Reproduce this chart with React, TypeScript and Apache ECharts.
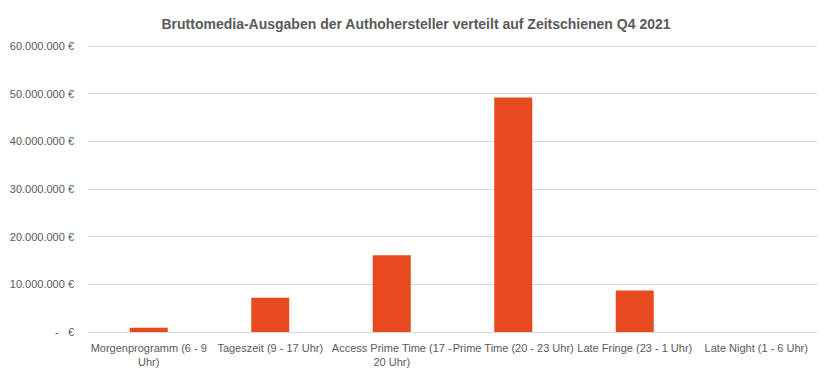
import React, { useEffect, useRef } from "react";
import * as echarts from "echarts";

const title = "Bruttomedia-Ausgaben der Authohersteller verteilt auf Zeitschienen Q4 2021";
const categories = [
  "Morgenprogramm (6 - 9 Uhr)",
  "Tageszeit (9 - 17 Uhr)",
  "Access Prime Time (17 - 20 Uhr)",
  "Prime Time (20 - 23 Uhr)",
  "Late Fringe (23 - 1 Uhr)",
  "Late Night (1 - 6 Uhr)",
];
const categoryLabels = [
  "Morgenprogramm (6 - 9\nUhr)",
  "Tageszeit (9 - 17 Uhr)",
  "Access Prime Time (17 -\n20 Uhr)",
  "Prime Time (20 - 23 Uhr)",
  "Late Fringe (23 - 1 Uhr)",
  "Late Night (1 - 6 Uhr)",
];
const values = [900000, 7200000, 16100000, 49200000, 8700000, 0];

const fmt = (v: number) => {
  if (v === 0) return "-   €";
  return String(Math.round(v)).replace(/\B(?=(\d{3})+(?!\d))/g, ".") + " €";
};

export default function App() {
  const ref = useRef<HTMLDivElement>(null);
  useEffect(() => {
    document.body.style.margin = "0";
    if (!ref.current) return;
    const chart = echarts.init(ref.current, undefined, { renderer: "svg" });
    chart.setOption({
      animation: false,
      backgroundColor: "#ffffff",
      textStyle: { fontFamily: "Liberation Sans, Arial, sans-serif" },
      title: {
        text: title,
        left: "center",
        top: 12,
        textStyle: { fontSize: 14, fontWeight: "bold", color: "#595959" },
      },
      grid: { left: 88, right: 15, top: 46, bottom: 52 },
      xAxis: {
        type: "category",
        data: categories,
        axisLine: { lineStyle: { color: "#D9D9D9" } },
        axisTick: { show: false },
        axisLabel: {
          color: "#595959",
          fontSize: 11,
          interval: 0,
          lineHeight: 14,
          margin: 9,
          formatter: (_: string, i: number) => categoryLabels[i],
        },
      },
      yAxis: {
        type: "value",
        min: 0,
        max: 60000000,
        interval: 10000000,
        axisLine: { show: false },
        axisTick: { show: false },
        splitLine: { lineStyle: { color: "#D9D9D9" } },
        axisLabel: { color: "#595959", fontSize: 11, margin: 14, formatter: fmt },
      },
      series: [
        {
          type: "bar",
          data: values,
          barWidth: 38,
          itemStyle: { color: "#E64A1E" },
        },
      ],
    });
    return () => chart.dispose();
  }, []);
  return <div ref={ref} style={{ width: 832, height: 384 }} />;
}
